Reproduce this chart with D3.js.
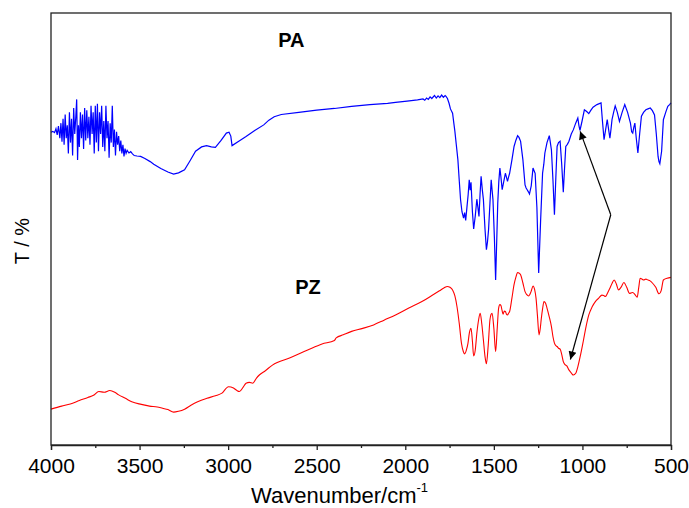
<!DOCTYPE html>
<html>
<head>
<meta charset="utf-8">
<script src="https://cdn.jsdelivr.net/npm/d3@7"></script>
<style>
  body { margin: 0; background: #fff; }
  svg { display: block; font-family: "Liberation Sans", Arial, sans-serif; }
</style>
</head>
<body>
<div id="chart"></div>
<script>
// PA spectrum (blue): wavenumber (cm-1) and transmittance (arbitrary %)
const paWave = [4000,3990,3980,3972,3965,3958,3950,3944,3938,3932,3926,3920,3914,3908,3902,3896,3890,3884,3878,3872,3866,3860,3855,3850,3845,3840,3834,3828,3822,3816,3810,3804,3798,3792,3786,3780,3774,3768,3762,3756,3750,3744,3738,3732,3726,3720,3714,3708,3702,3696,3690,3684,3678,3672,3666,3660,3654,3648,3642,3636,3630,3624,3618,3612,3606,3600,3594,3588,3582,3576,3570,3560,3550,3540,3530,3515,3494,3470,3440,3420,3380,3340,3308,3280,3246,3215,3184,3150,3122,3095,3072,3040,3010,2995,2985,2978,2940,2899,2850,2799,2770,2740,2700,2601,2500,2400,2303,2200,2100,2055,1990,1931,1900,1890,1880,1870,1860,1850,1844,1835,1825,1815,1805,1795,1785,1775,1770,1762,1753,1745,1733,1726,1720,1712,1703,1695,1688,1680,1671,1665,1659,1652,1645,1639,1634,1629,1621,1614,1605,1596,1590,1584,1578,1572,1565,1559,1550,1542,1536,1530,1522,1515,1510,1505,1497,1490,1484,1478,1472,1466,1460,1453,1444,1435,1429,1423,1417,1411,1398,1386,1376,1366,1358,1349,1336,1324,1318,1312,1305,1299,1289,1279,1273,1267,1257,1247,1236,1225,1218,1212,1200,1187,1181,1175,1166,1158,1150,1143,1135,1126,1117,1108,1101,1094,1085,1076,1063,1051,1038,1026,1020,1014,1002,989,976,964,952,940,918,895,887,878,869,860,852,845,839,833,824,815,803,791,776,761,745,729,722,716,710,704,696,687,677,667,655,642,630,617,605,593,583,573,568,563,553,543,530,518,508,500];
const paT = [72.4,72.6,72.3,73.2,71.8,73.8,71,74.5,70.2,75.5,69.5,76.5,71,74,67.5,77,70,75.5,67,78,72,76,80,66,74,69,77,71,76.5,68.5,78,70.5,77.5,71,76,69.5,78.5,72,77,67.5,78.5,70,79,68,77,72,78.5,69,75,68,78.5,71,75,66.5,74.5,70,78.5,69,73,67,72.5,69.5,71.5,68,70.5,67.5,69.5,66.8,68.6,67.5,68.2,67.6,67.9,67.4,67,66.9,66.8,66.3,65.6,65,64,63.2,62.7,63,63.7,65.8,68,69,69.3,69,68.9,70.5,72.2,72.4,71.5,69.3,70.3,71.4,72.8,74.1,75.2,76,76.5,77,77.5,77.9,78.4,78.8,79.1,79.3,79.6,79.9,80.1,79.8,80.3,80,80.6,80.2,80.5,80.9,80.3,80.8,80.4,81,80.5,80.9,80.7,80.2,79.1,77.8,76.8,74.5,72.6,69.5,66,61,56.8,54,52.5,53.8,52,55,58,61.4,59,60.8,54,50,53,56.9,55,52.9,58,62.2,59,56.8,50,45.2,47,49.8,56,61.4,59,56.8,48,38.2,47,56,61,64.1,62,59.1,61,62.9,62,61,62,62.9,66,69.1,70.5,71.6,71.2,70.3,66,60.2,59.5,59.1,58.6,58.1,60,64.1,63.5,62.9,55,39.8,52,62.9,65,67.6,70,71.6,70,68.3,61,53.3,62,69.1,70,70.3,65,58.5,64,69.1,69.6,70.3,72,73,74.5,75.7,74,72.8,75,77.6,77.2,76.7,77.5,78.2,78.8,79.2,75,70.7,73,75.3,73,71,73,75.3,77,78.5,77,74.9,77,78.8,77,74.5,72.5,72.2,73.5,74.5,71,67.6,72,76.1,77,77.6,77.8,78,77.4,76.4,72,66.8,65.6,65.1,68,75.3,77,78.4,78.8,79.2];

// PZ spectrum (red)
const pzWave = [4000,3940,3891,3840,3792,3760,3730,3700,3668,3640,3618,3580,3544,3490,3444,3400,3370,3340,3308,3280,3246,3210,3172,3120,3072,3035,2998,2970,2950,2936,2915,2899,2880,2861,2840,2824,2790,2750,2650,2551,2470,2400,2390,2350,2303,2240,2179,2120,2055,1980,1906,1850,1807,1780,1763,1748,1733,1720,1708,1695,1683,1672,1664,1655,1646,1638,1629,1621,1614,1605,1596,1586,1577,1568,1559,1550,1542,1532,1522,1516,1510,1500,1490,1481,1473,1466,1460,1454,1448,1441,1435,1429,1423,1417,1411,1398,1386,1376,1366,1358,1349,1336,1324,1314,1304,1290,1279,1270,1262,1254,1245,1238,1232,1225,1217,1208,1200,1188,1175,1166,1158,1150,1143,1135,1126,1117,1108,1098,1088,1078,1069,1060,1051,1038,1026,1010,994,979,964,945,927,908,890,880,870,858,845,833,821,808,796,781,766,750,734,725,716,703,691,682,674,664,654,642,630,618,605,586,568,555,543,522,500];
const pzT = [8.3,9,9.5,10.3,11,11.5,12.4,12.2,12.6,12.2,11.6,10.8,10,9.4,9,8.8,8.5,8.2,7.6,7.8,8.3,9.2,10,10.8,11.4,12,13.5,13.2,12.6,12.4,13.4,14.3,14.5,14.3,15.5,16.2,17.2,18.5,20.2,22,23.4,24.2,24.8,25.5,26.3,27,27.8,28.9,30.1,31.7,33.2,34.6,35.7,36.4,36.7,36.5,35.9,34.5,32,28,23.6,21.6,21.1,22,23.6,26,27,24,20.6,22,25.9,29,30.5,28,24.3,20.5,18.8,23,29,30.2,30.5,27,21.6,27,31.7,32.5,32.3,31.2,30.3,31,30.9,30.3,30.1,30.5,30.9,34,37.1,38.8,39.9,39.8,39.4,37.5,35.5,34.8,34.5,35.5,36.8,36,34,30,25.5,27,29.3,31.5,33.2,32.8,31.7,29.8,27.4,25,23.6,23,22.8,22.4,22.2,21,19.3,18.6,18.3,17.5,17,16.5,16.2,16.6,18.1,21,24.3,27.5,30.1,32,33.2,34,34.7,34.6,34.4,35.2,36.3,37.4,38.2,37.2,35.9,36.6,37.6,36.5,35.1,35.2,35.3,34.8,34.2,36.5,38.6,38.4,38.2,38.4,38.2,38,37.5,36.5,35,35.8,38.2,38.6,38.8];

const xTicks = [4000,3500,3000,2500,2000,1500,1000,500];
const xMinorTicks = [3750,3250,2750,2250,1750,1250,750];

// sample labels and annotation arrows (wavenumber, T)
const seriesLabels = [
  { text: "PA", wave: 2717, t: 92.2 },
  { text: "PZ", wave: 2621, t: 35 }
];
const arrowFrom = { wave: 840, t: 53.3 };
const arrowTo = [
  { wave: 1013, t: 72.6 },
  { wave: 1068, t: 19.8 }
];

const width = 689, height = 508;
const margin = { top: 13, right: 18, bottom: 63, left: 51 };

const svg = d3.select("#chart").append("svg")
  .attr("width", width)
  .attr("height", height);

const x = d3.scaleLinear()
  .domain([4000, 500])
  .range([margin.left, width - margin.right]);

const y = d3.scaleLinear()
  .domain([0, 100])
  .range([height - margin.bottom, margin.top]);

svg.append("defs").append("marker")
  .attr("id", "arrowhead")
  .attr("viewBox", "0 0 10 10")
  .attr("refX", 10)
  .attr("refY", 5)
  .attr("markerWidth", 11)
  .attr("markerHeight", 8)
  .attr("markerUnits", "userSpaceOnUse")
  .attr("orient", "auto")
  .append("path")
  .attr("d", "M0,0 L10,5 L0,10 z")
  .attr("fill", "#000");

const line = d3.line()
  .x(d => x(d[0]))
  .y(d => y(d[1]));

svg.append("path")
  .datum(paWave.map((w, i) => [w, paT[i]]))
  .attr("fill", "none")
  .attr("stroke", "#0000ff")
  .attr("stroke-width", 1.2)
  .attr("d", line);

svg.append("path")
  .datum(pzWave.map((w, i) => [w, pzT[i]]))
  .attr("fill", "none")
  .attr("stroke", "#ff0000")
  .attr("stroke-width", 1.1)
  .attr("d", line.curve(d3.curveMonotoneX));

// arrows
arrowTo.forEach(t => {
  svg.append("line")
    .attr("x1", x(arrowFrom.wave))
    .attr("y1", y(arrowFrom.t))
    .attr("x2", x(t.wave))
    .attr("y2", y(t.t))
    .attr("stroke", "#000")
    .attr("stroke-width", 1.2)
    .attr("marker-end", "url(#arrowhead)");
});

svg.selectAll(".series-label")
  .data(seriesLabels)
  .enter()
  .append("text")
  .attr("class", "series-label")
  .attr("x", d => x(d.wave))
  .attr("y", d => y(d.t))
  .attr("font-size", "20px")
  .attr("font-weight", "bold")
  .text(d => d.text);

// frame
svg.append("rect")
  .attr("x", margin.left)
  .attr("y", margin.top)
  .attr("width", width - margin.left - margin.right)
  .attr("height", height - margin.top - margin.bottom)
  .attr("fill", "none")
  .attr("stroke", "#222")
  .attr("stroke-width", 1.3);

const xAxis = svg.append("g")
  .attr("transform", `translate(0, ${height - margin.bottom})`)
  .call(d3.axisBottom(x).tickValues(xTicks).tickSize(5).tickPadding(8).tickFormat(d3.format("d")));

svg.append("g")
  .attr("transform", `translate(0, ${height - margin.bottom})`)
  .call(d3.axisBottom(x).tickValues(xMinorTicks).tickSize(3).tickFormat(""))
  .call(g => g.select(".domain").remove());

xAxis.select(".domain").attr("stroke", "#222").attr("stroke-width", 1.3);
svg.selectAll(".tick line").attr("stroke", "#222").attr("stroke-width", 1.3);
xAxis.selectAll(".tick text")
  .attr("font-size", "21px")
  .attr("font-family", "'Liberation Sans', Arial, sans-serif")
  .attr("fill", "#000");

const xTitle = svg.append("text")
  .attr("x", 251)
  .attr("y", 503)
  .attr("font-size", "22px")
  .attr("fill", "#000");
xTitle.append("tspan").text("Wavenumber/cm");
xTitle.append("tspan")
  .attr("font-size", "13px")
  .attr("dy", -11)
  .text("-1");

svg.append("text")
  .attr("transform", "translate(29, 241) rotate(-90)")
  .attr("text-anchor", "middle")
  .attr("font-size", "20px")
  .attr("fill", "#000")
  .text("T / %");
</script>
</body>
</html>
